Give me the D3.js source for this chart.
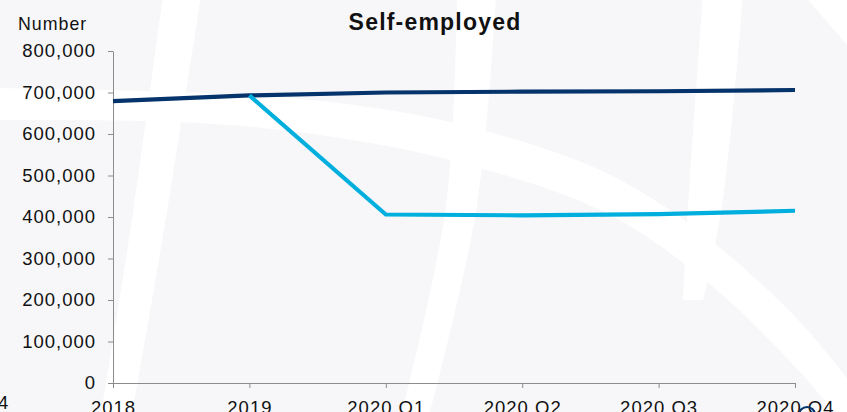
<!DOCTYPE html>
<html>
<head>
<meta charset="utf-8">
<script src="https://cdn.jsdelivr.net/npm/d3@7"></script>
<style>
  html, body { margin: 0; padding: 0; background: #f7f7f9; overflow: hidden; }
  svg { display: block; }
  text { font-family: "Liberation Sans", Arial, sans-serif; }
</style>
</head>
<body>
<svg id="chart" width="847" height="412"></svg>
<script>
// ---- data ----
const categories = ["2018", "2019", "2020 Q1", "2020 Q2", "2020 Q3", "2020 Q4"];
const seriesDark = [679000, 693000, 700000, 702000, 703000, 706000];
const seriesLight = [null, 693000, 406000, 404000, 407000, 415000];
const yTicks = [0, 100000, 200000, 300000, 400000, 500000, 600000, 700000, 800000];
const yAxisTitle = "Number";
const chartTitle = "Self-employed";

// ---- layout ----
const W = 847, H = 412;
const plotLeft = 113, plotRight = 795, plotTop = 51, plotBottom = 383;
const svg = d3.select("#chart");

// background
svg.append("rect").attr("width", W).attr("height", H).attr("fill", "#f7f7f9");
const bg = svg.append("g").attr("fill", "#ffffff");
function bandOpen(upper, lower) {
  const up = d3.line().curve(d3.curveCatmullRom)(upper);
  const lo = d3.line().curve(d3.curveCatmullRom)(lower.slice().reverse());
  bg.append("path").attr("d", up + "L" + lo.slice(1) + "Z");
}
// near-vertical bands
bandOpen([[163, -5], [134, 206], [100, 420]], [[201, -5], [168, 206], [131, 420]]);
bandOpen([[457, -5], [446, 206], [400, 420]], [[496, -5], [477, 206], [428, 420]]);
bandOpen([[703, -5], [688, 206], [683, 300]], [[743, -5], [722, 206], [703, 300]]);
// large sweeping arc
bandOpen([[-5, 88], [200, 93], [320, 101], [450, 122], [600, 170], [700, 232], [800, 322], [860, 395]],
         [[-5, 120], [200, 123], [320, 135], [450, 160], [600, 210], [700, 276], [800, 372], [860, 445]]);
// top-right corner
bg.append("path").attr("d", "M808,0 L847,0 L847,45 Z");

// ---- scales ----
const x = d3.scalePoint().domain(categories).range([plotLeft, plotRight]).padding(0);
const y = d3.scaleLinear().domain([0, 800000]).range([plotBottom, plotTop]);

const fontSize = "18.5px";

// y axis
const yAxis = svg.append("g")
  .attr("transform", `translate(${plotLeft},0)`)
  .call(d3.axisLeft(y).tickValues(yTicks).tickFormat(d3.format(",")).tickSize(5).tickSizeOuter(0).tickPadding(12));
yAxis.select(".domain").attr("stroke", "#8c8c8c");
yAxis.selectAll(".tick line").attr("stroke", "#8c8c8c");
yAxis.selectAll("text").attr("fill", "#111").style("font-size", fontSize).style("letter-spacing", "1px");

// x axis
const xAxis = svg.append("g")
  .attr("transform", `translate(0,${plotBottom})`)
  .call(d3.axisBottom(x).tickSize(5).tickSizeOuter(0).tickPadding(13));
xAxis.select(".domain").attr("stroke", "#8c8c8c");
xAxis.selectAll(".tick line").attr("stroke", "#8c8c8c");
xAxis.selectAll("text").attr("fill", "#111").style("font-size", fontSize).style("letter-spacing", "1px");

// lines
const line = d3.line()
  .defined(d => d.v !== null)
  .x(d => x(d.c))
  .y(d => y(d.v));
svg.append("path")
  .datum(categories.map((c, i) => ({ c, v: seriesDark[i] })))
  .attr("d", line).attr("fill", "none").attr("stroke", "#05336b").attr("stroke-width", 4.2);
svg.append("path")
  .datum(categories.map((c, i) => ({ c, v: seriesLight[i] })))
  .attr("d", line).attr("fill", "none").attr("stroke", "#00afdd").attr("stroke-width", 4.2);

// texts
svg.append("text").attr("x", 18).attr("y", 29.5).attr("fill", "#111")
  .style("font-size", "17.8px").style("letter-spacing", "1px").text(yAxisTitle);
svg.append("text").attr("x", 435).attr("y", 29.5).attr("text-anchor", "middle").attr("fill", "#111")
  .style("font-size", "23px").style("font-weight", "bold").style("letter-spacing", "1.2px").text(chartTitle);

// cropped remnants at edges
svg.append("text").attr("x", -2).attr("y", 409).attr("fill", "#111").style("font-size", fontSize).text("4");
svg.append("circle").attr("cx", 807).attr("cy", 415).attr("r", 8)
  .attr("fill", "none").attr("stroke", "#05336b").attr("stroke-width", 2.2);
</script>
</body>
</html>
